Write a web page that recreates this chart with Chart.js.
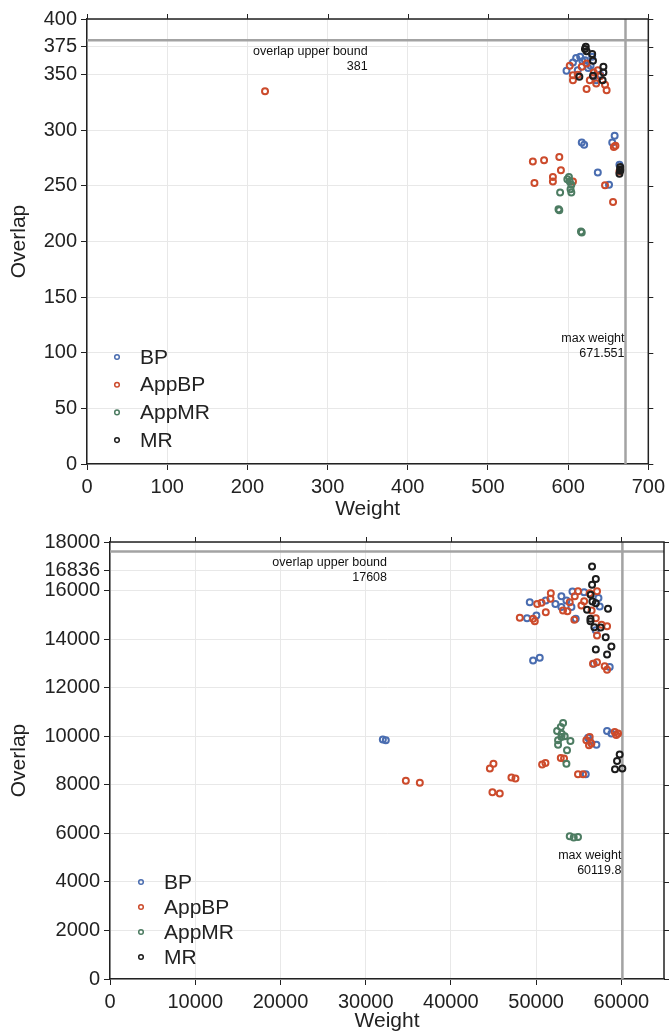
<!DOCTYPE html>
<html>
<head>
<meta charset="utf-8">
<script src="https://cdn.jsdelivr.net/npm/chart.js@4.4.1/dist/chart.umd.min.js"></script>
<style>
  body { margin: 0; background: #fff; width: 670px; height: 1034px; position: relative; overflow: hidden; }
  canvas { position: absolute; left: 0; }
  #topChart { top: 0; }
  #bottomChart { top: 525px; }
</style>
</head>
<body>
<canvas id="topChart" width="670" height="525"></canvas>
<canvas id="bottomChart" width="670" height="509"></canvas>
<script>
// series names and colours
const seriesNames = ['BP', 'AppBP', 'AppMR', 'MR']
const seriesColors = ['#4a6db0', '#cc4b2c', '#4d7c62', '#1c1c1c']

// ---- top chart data (weight, overlap) ----
const topBpWeight = [615, 606, 598, 625, 621, 632, 635, 612, 628, 640, 618, 610, 630, 658, 655, 617, 620, 637, 664, 651]
const topBpOverlap = [366, 361, 353.5, 356, 363, 348, 345, 354, 358, 350, 362, 365, 366, 295, 289, 289, 287, 262, 269, 251]

const topAppBpWeight = [222, 602, 606, 606, 623, 637, 640, 635, 646, 648, 623, 627, 617, 612, 632, 659, 657, 589, 570, 591, 581, 581, 606, 646, 656, 664, 556, 558]
const topAppBpOverlap = [335, 358, 349.5, 345, 360, 354, 348.5, 342, 341, 336, 337, 345, 357, 350, 352, 286, 285, 276, 273, 264, 258, 254, 254, 250.5, 235.5, 263, 272, 252.5]

const topAppMrWeight = [601, 602, 604, 590, 604, 588, 616, 599, 589, 617, 603]
const topAppMrOverlap = [258, 254, 251, 244, 244, 229, 209, 256, 228, 208, 247]

const topMrWeight = [622, 621, 623, 630, 631, 644, 644, 643, 631, 614, 665, 665, 664, 665]
const topMrOverlap = [375, 373, 371, 368.5, 362.5, 357, 352, 345, 349, 348, 263.5, 267, 261, 265]

const topXTicks = [0, 100, 200, 300, 400, 500, 600, 700]
const topYTicks = [0, 50, 100, 150, 200, 250, 300, 350, 375, 400]
const topUpperBound = 381
const topMaxWeight = 671.551

// ---- bottom chart data (weight, overlap) ----
const bottomBpWeight = [32010, 32360, 49250, 49640, 50420, 48930, 50030, 51130, 52260, 52960, 53550, 54260, 55620, 57310, 57460, 54640, 56990, 58630, 56750, 54140, 52960, 58320, 58830, 57070, 55820, 56090, 56300]
const bottomBpOverlap = [9870, 9830, 15520, 13120, 13230, 14860, 14970, 15590, 15450, 15770, 15590, 15960, 15930, 15690, 15340, 14840, 14360, 12850, 12990, 15320, 15320, 10210, 10110, 9650, 8430, 9940, 9800]

const bottomAppBpWeight = [48080, 49840, 49640, 50120, 50630, 51130, 51720, 51680, 53150, 53670, 53940, 54530, 54910, 54480, 55630, 56280, 57140, 56510, 57000, 57670, 58320, 57140, 56670, 57140, 58040, 58320, 55310, 55890, 56280, 56480, 56200, 59220, 59610, 59400, 50700, 51090, 52890, 53270, 54910, 55500, 47100, 47570, 45730, 44990, 44570, 44870, 34710, 36350]
const bottomAppBpOverlap = [14880, 14740, 14840, 15450, 15500, 15110, 15890, 15660, 15180, 15150, 15520, 15770, 15970, 14800, 15560, 15890, 15970, 15180, 14860, 14590, 14530, 14150, 12990, 13050, 12880, 12740, 15380, 9830, 9970, 9700, 9630, 10170, 10110, 10050, 8840, 8900, 9100, 9080, 8430, 8430, 8300, 8260, 7640, 8870, 8670, 7690, 8170, 8080]

const bottomAppMrWeight = [53160, 52890, 52460, 52960, 53350, 52570, 54020, 52570, 53620, 53550, 53000, 53940, 54410, 54910]
const bottomAppMrOverlap = [10540, 10380, 10210, 9970, 10000, 9830, 9800, 9650, 9420, 8870, 10100, 5880, 5830, 5850]

const bottomMrWeight = [56560, 57000, 56560, 56400, 56600, 57000, 55970, 58430, 56370, 56370, 56830, 57570, 58160, 57000, 58830, 58320, 59800, 59490, 59250, 60110]
const bottomMrOverlap = [16990, 16480, 16235, 15825, 15550, 15480, 15210, 15250, 14840, 14740, 14490, 14480, 14080, 13575, 13700, 13370, 9250, 8980, 8640, 8670]

const bottomXTicks = [0, 10000, 20000, 30000, 40000, 50000, 60000]
const bottomYTicks = [0, 2000, 4000, 6000, 8000, 10000, 12000, 14000, 16000, 16836, 18000]
const bottomUpperBound = 17608
const bottomMaxWeight = 60119.8

const FONT = "'Liberation Sans', Arial, Helvetica, sans-serif"
const INK = '#222'

function toPoints(xs, ys) {
  return xs.map((x, i) => ({ x: x, y: ys[i] }))
}

// frame, mirrored ticks, annotations and legend inside the plot
const framePlugin = {
  id: 'frame',
  afterDraw(chart) {
    const o = chart.options.plugins.frame
    const ctx = chart.ctx
    const a = chart.chartArea
    const xs = chart.scales.x
    const ys = chart.scales.y
    ctx.save()
    ctx.strokeStyle = INK
    ctx.lineWidth = 1.5
    ctx.beginPath()
    ctx.moveTo(a.left, a.top)
    ctx.lineTo(a.right, a.top)
    ctx.lineTo(a.right, a.bottom)
    ctx.stroke()
    ctx.lineWidth = 1
    ctx.beginPath()
    xs.ticks.forEach(t => {
      const px = Math.round(xs.getPixelForValue(t.value)) + 0.5
      ctx.moveTo(px, a.top)
      ctx.lineTo(px, a.top - 5)
    })
    ys.ticks.forEach(t => {
      const py = Math.round(ys.getPixelForValue(t.value)) + 0.5
      ctx.moveTo(a.right, py)
      ctx.lineTo(a.right + 5, py)
    })
    ctx.stroke()

    // annotations
    ctx.fillStyle = '#111'
    ctx.font = '12.5px ' + FONT
    ctx.textAlign = 'right'
    ctx.textBaseline = 'middle'
    const bx = xs.getPixelForValue(o.boundLabelX)
    const by = ys.getPixelForValue(o.bound)
    ctx.fillText('overlap upper bound', bx, by + 11.5)
    ctx.fillText(String(o.bound), bx, by + 26)
    const mx = xs.getPixelForValue(o.maxWeight) - 1
    const my = ys.getPixelForValue(o.maxLabelY)
    ctx.fillText('max weight', mx, my)
    ctx.fillText(String(o.maxWeight), mx, my + 15)

    // legend
    ctx.font = '21px ' + FONT
    ctx.textAlign = 'left'
    seriesNames.forEach((name, i) => {
      const ry = o.legendY + i * o.legendStep
      ctx.strokeStyle = seriesColors[i]
      ctx.lineWidth = 1.5
      ctx.beginPath()
      ctx.arc(o.legendX, ry, 2.3, 0, Math.PI * 2)
      ctx.stroke()
      ctx.fillStyle = INK
      ctx.fillText(name, o.legendX + 23, ry + 1)
    })
    ctx.restore()
  }
}

function makeChart(id, s) {
  const datasets = seriesNames.map((name, i) => ({
    type: 'scatter',
    label: name,
    data: toPoints(s.weights[i], s.overlaps[i]),
    borderColor: seriesColors[i],
    backgroundColor: 'rgba(255,255,255,0)',
    pointRadius: 3,
    pointBorderWidth: 2,
    order: 3 - i
  }))
  datasets.push({
    type: 'line',
    label: 'bound',
    data: [{ x: 0, y: s.bound }, { x: s.xMax, y: s.bound }],
    borderColor: '#a3a3a3',
    borderWidth: 2.5,
    pointRadius: 0,
    order: 10
  })
  datasets.push({
    type: 'line',
    label: 'max weight',
    data: [{ x: s.maxWeight, y: 0 }, { x: s.maxWeight, y: s.yMax }],
    borderColor: '#a3a3a3',
    borderWidth: 2.5,
    pointRadius: 0,
    order: 10
  })

  const tickFont = { family: FONT, size: 20 }
  const titleFont = { family: FONT, size: 21 }

  return new Chart(document.getElementById(id), {
    data: { datasets: datasets },
    plugins: [framePlugin],
    options: {
      responsive: false,
      devicePixelRatio: 1,
      animation: false,
      layout: { padding: { top: s.padTop, right: s.padRight, left: 0, bottom: 0 } },
      plugins: {
        legend: { display: false },
        tooltip: { enabled: false },
        frame: {
          bound: s.bound,
          boundLabelX: s.xMax / 2,
          maxWeight: s.maxWeight,
          maxLabelY: s.maxLabelY,
          legendX: s.legendX,
          legendY: s.legendY,
          legendStep: s.legendStep
        }
      },
      scales: {
        x: {
          type: 'linear',
          min: 0,
          max: s.xMax,
          afterBuildTicks: scale => { scale.ticks = s.xTicks.map(v => ({ value: v })) },
          afterFit: scale => { scale.height = s.xAxisHeight },
          grid: { color: '#e8e8e8', lineWidth: 1, tickColor: INK, tickLength: 6 },
          border: { color: INK, width: 1.5 },
          ticks: { font: tickFont, color: INK, padding: 5, maxRotation: 0, autoSkip: false, callback: v => String(v) },
          title: { display: true, text: 'Weight', font: titleFont, color: INK, padding: { top: 0, bottom: s.xTitlePad } }
        },
        y: {
          type: 'linear',
          min: 0,
          max: s.yMax,
          afterBuildTicks: scale => { scale.ticks = s.yTicks.map(v => ({ value: v })) },
          afterFit: scale => { scale.width = s.yAxisWidth },
          grid: { color: '#e8e8e8', lineWidth: 1, tickColor: INK, tickLength: 6 },
          border: { color: INK, width: 1.5 },
          ticks: { font: tickFont, color: INK, padding: 4, autoSkip: false, callback: v => String(v) },
          title: { display: true, text: 'Overlap', font: titleFont, color: INK, padding: { top: 7, bottom: 0 } }
        }
      }
    }
  })
}

makeChart('topChart', {
  weights: [topBpWeight, topAppBpWeight, topAppMrWeight, topMrWeight],
  overlaps: [topBpOverlap, topAppBpOverlap, topAppMrOverlap, topMrOverlap],
  xMax: 700, yMax: 400,
  xTicks: topXTicks, yTicks: topYTicks,
  bound: topUpperBound, maxWeight: topMaxWeight, maxLabelY: 113,
  padTop: 19, padRight: 20, yAxisWidth: 87, xAxisHeight: 61, xTitlePad: 3,
  legendX: 117, legendY: 357, legendStep: 27.7
})

makeChart('bottomChart', {
  weights: [bottomBpWeight, bottomAppBpWeight, bottomAppMrWeight, bottomMrWeight],
  overlaps: [bottomBpOverlap, bottomAppBpOverlap, bottomAppMrOverlap, bottomMrOverlap],
  xMax: 65000, yMax: 18000,
  xTicks: bottomXTicks, yTicks: bottomYTicks,
  bound: bottomUpperBound, maxWeight: bottomMaxWeight, maxLabelY: 5100,
  padTop: 17, padRight: 6, yAxisWidth: 110, xAxisHeight: 55, xTitlePad: 0,
  legendX: 141, legendY: 357, legendStep: 25
})
</script>
</body>
</html>
